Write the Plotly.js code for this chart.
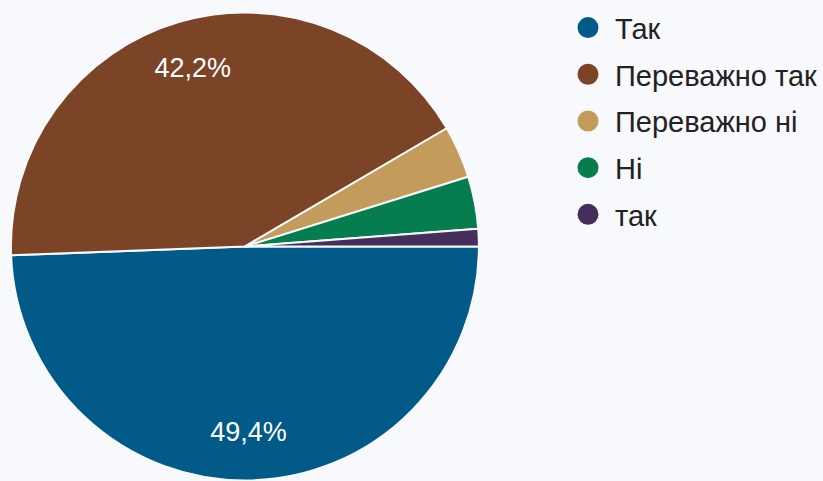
<!DOCTYPE html>
<html>
<head>
<meta charset="utf-8">
<script src="https://cdn.plot.ly/plotly-3.0.1.min.js"></script>
<style>html,body{margin:0;padding:0;background:#f8f9fc;}#chart{width:823px;height:481px;}</style>
</head>
<body>
<div id="chart"></div>
<script>
var categories = ['Так', 'Переважно так', 'Переважно ні', 'Ні', 'так'];
var counts = [41, 35, 3, 3, 1];
var colors = ['#025a88', '#7b4426', '#c39b5b', '#067d4f', '#452e5c'];
var showPct = [true, true, false, false, false];

var pieDomain = {x: [0.0134, 0.5869], y: [0, 0.975]};

var pie = {
  type: 'pie',
  labels: categories,
  values: counts,
  sort: false,
  direction: 'clockwise',
  rotation: 90,
  marker: {colors: colors, line: {color: '#f8f9fc', width: 2}},
  textinfo: 'none',
  hoverinfo: 'label+percent',
  showlegend: false,
  domain: pieDomain
};

// transparent overlay ring used only to place the percentage labels further out
var pieLabels = {
  type: 'pie',
  labels: categories,
  values: counts,
  sort: false,
  direction: 'clockwise',
  rotation: 90,
  hole: 0.59,
  marker: {colors: categories.map(function(){ return 'rgba(0,0,0,0)'; }), line: {width: 0}},
  texttemplate: showPct.map(function(s){ return s ? '%{percent:.1%}' : ''; }),
  textposition: 'inside',
  insidetextorientation: 'horizontal',
  textfont: {family: 'Liberation Sans, Arial, sans-serif', size: 27, color: '#ffffff'},
  hoverinfo: 'skip',
  showlegend: false,
  domain: pieDomain
};

var legendTraces = categories.map(function(c, i){
  return {
    type: 'scatter', mode: 'markers', x: [null], y: [null], name: c,
    legendgroup: 'g' + i,
    marker: {color: colors[i], size: 16, symbol: 'circle', line: {color: colors[i], width: 5}},
    showlegend: true, hoverinfo: 'skip'
  };
});

var layout = {
  width: 823, height: 481,
  margin: {l: 0, r: 0, t: 0, b: 0},
  paper_bgcolor: '#f8f9fc',
  plot_bgcolor: '#f8f9fc',
  separators: ', ',
  xaxis: {visible: false, domain: [0.7, 0.71]},
  yaxis: {visible: false},
  showlegend: true,
  legend: {
    x: 0.6877, y: 0.9954, xanchor: 'left', yanchor: 'top',
    font: {family: 'Liberation Sans, Arial, sans-serif', size: 29, color: '#222222'},
    bgcolor: 'rgba(0,0,0,0)',
    tracegroupgap: 6,
    itemwidth: 44
  }
};

Plotly.newPlot('chart', [pie, pieLabels].concat(legendTraces), layout, {displayModeBar: false, staticPlot: true});
</script>
</body>
</html>
